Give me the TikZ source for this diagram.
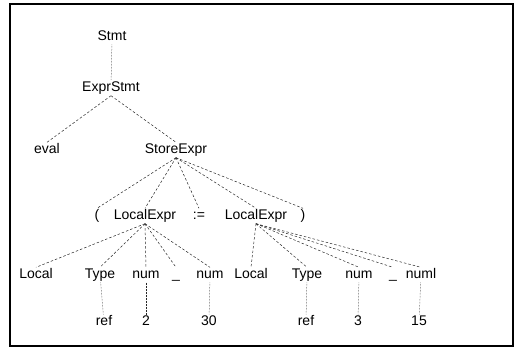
\documentclass[tikz,border=0pt]{standalone}
\usepackage{fontspec}
\setmainfont{Liberation Sans}
\tikzset{
  tnode/.style={font=\fontsize{14}{16}\selectfont, inner sep=1pt, text height=10pt, text depth=3pt},
  tedge/.style={dash pattern=on 2.5pt off 2pt, line width=0.5pt, black!85},
  vedge/.style={densely dotted, line width=0.5pt, black!85}
}

\begin{document}
\begin{tikzpicture}[x=1pt,y=-1pt]
  \useasboundingbox (0,0) rectangle (515,349);
  \draw[line width=1.2pt] (10,4) rectangle (513,346);

  % top of the tree
  \node[tnode] (stmt) at (112,37) {Stmt};
  \node[tnode] (exprstmt) at (111,88) {ExprStmt};
  \node[tnode] (eval) at (47,150) {eval};
  \node[tnode] (store) at (176,150) {StoreExpr};

  % second level
  \node[tnode] (lpar) at (97,216) {(};
  \node[tnode] (lexprA) at (145,216) {LocalExpr};
  \node[tnode] (assign) at (199,216) {:=};
  \node[tnode] (lexprB) at (256,216) {LocalExpr};
  \node[tnode] (rpar) at (303,216) {)};

  % leaves of the first LocalExpr
  \node[tnode] (localA) at (36,275) {Local};
  \node[tnode] (typeA) at (100,275) {Type};
  \node[tnode] (numA) at (146,275) {num};
  \node[tnode] (undA) at (176,275) {\_};
  \node[tnode] (numAA) at (210,275) {num};
  \node[tnode] (refA) at (104,322) {ref};
  \node[tnode] (twoA) at (146,322) {2};
  \node[tnode] (thirtyA) at (209,322) {30};

  % leaves of the second LocalExpr
  \node[tnode] (localB) at (251,275) {Local};
  \node[tnode] (typeB) at (307,275) {Type};
  \node[tnode] (numB) at (359,275) {num};
  \node[tnode] (undB) at (393,275) {\_};
  \node[tnode] (numBB) at (421,275) {numl};
  \node[tnode] (refB) at (306,322) {ref};
  \node[tnode] (threeB) at (358,322) {3};
  \node[tnode] (fifteenB) at (419,322) {15};

  % Stmt to ExprStmt
  \draw[vedge] (stmt) -- (exprstmt);
  % ExprStmt to eval and StoreExpr
  \draw[tedge] (exprstmt.south) -- (eval.north);
  \draw[tedge] (exprstmt.south) -- (store.north);
  % StoreExpr to its children
  \foreach \c in {lpar,lexprA,assign,lexprB,rpar}
    \draw[tedge] (store.south) -- (\c.north);
  % first LocalExpr
  \foreach \c in {localA,typeA,numA,undA,numAA}
    \draw[tedge] (lexprA.south) -- (\c.north);
  % second LocalExpr
  \foreach \c in {localB,typeB,numB,undB,numBB}
    \draw[tedge] (lexprB.south) -- (\c.north);
  % values
  \draw[vedge] (typeA) -- (refA);
  \draw[vedge] (numA) -- (twoA);
  \draw[vedge] (numAA) -- (thirtyA);
  \draw[vedge] (typeB) -- (refB);
  \draw[vedge] (numB) -- (threeB);
  \draw[vedge] (numBB) -- (fifteenB);
\end{tikzpicture}
\end{document}
